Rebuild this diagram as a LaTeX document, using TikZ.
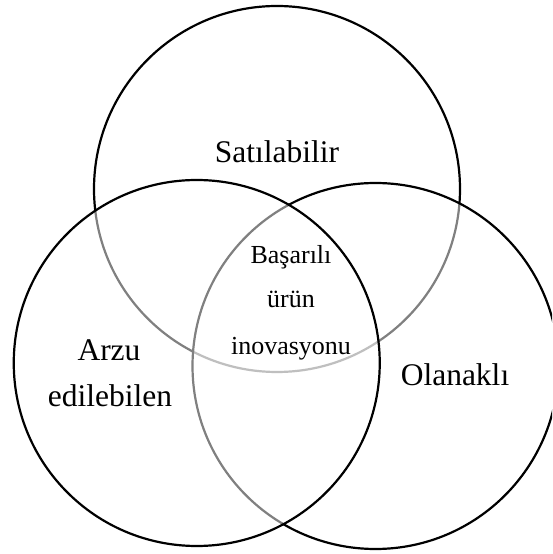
\documentclass[tikz,border=0pt]{standalone}
\usepackage{fontspec}
\setmainfont{Liberation Serif}
\begin{document}
\begin{tikzpicture}[x=1pt,y=1pt,
  venn/.style={circle, inner sep=0pt, outer sep=0pt, draw=black, line width=2.2pt,
    fill=white, fill opacity=0.5, draw opacity=1, minimum size=366pt},
  big/.style={font=\fontsize{31.5}{38}\selectfont, inner sep=0pt, anchor=base},
  small/.style={font=\fontsize{26}{32}\selectfont, inner sep=0pt, anchor=base}]
\useasboundingbox (0,0) rectangle (552,554);
\begin{scope}
\clip (0,0) rectangle (552,554);
\node[venn] (top) at (277,365) {};
\node[venn] (right) at (375.5,188) {};
\node[venn] (left) at (196.75,191) {};
\end{scope}
\node[big] (sat) at (277,391) {Satılabilir};
\node[big] (arzu) at (109,193) {Arzu};
\node[big] (edil) at (110,147.3) {edilebilen};
\node[big] (olan) at (455,168) {Olanaklı};
\node[small] (bas) at (291,290.7) {Başarılı};
\node[small] (urun) at (291,246) {ürün};
\node[small] (inov) at (291,199) {inovasyonu};
\end{tikzpicture}
\end{document}
